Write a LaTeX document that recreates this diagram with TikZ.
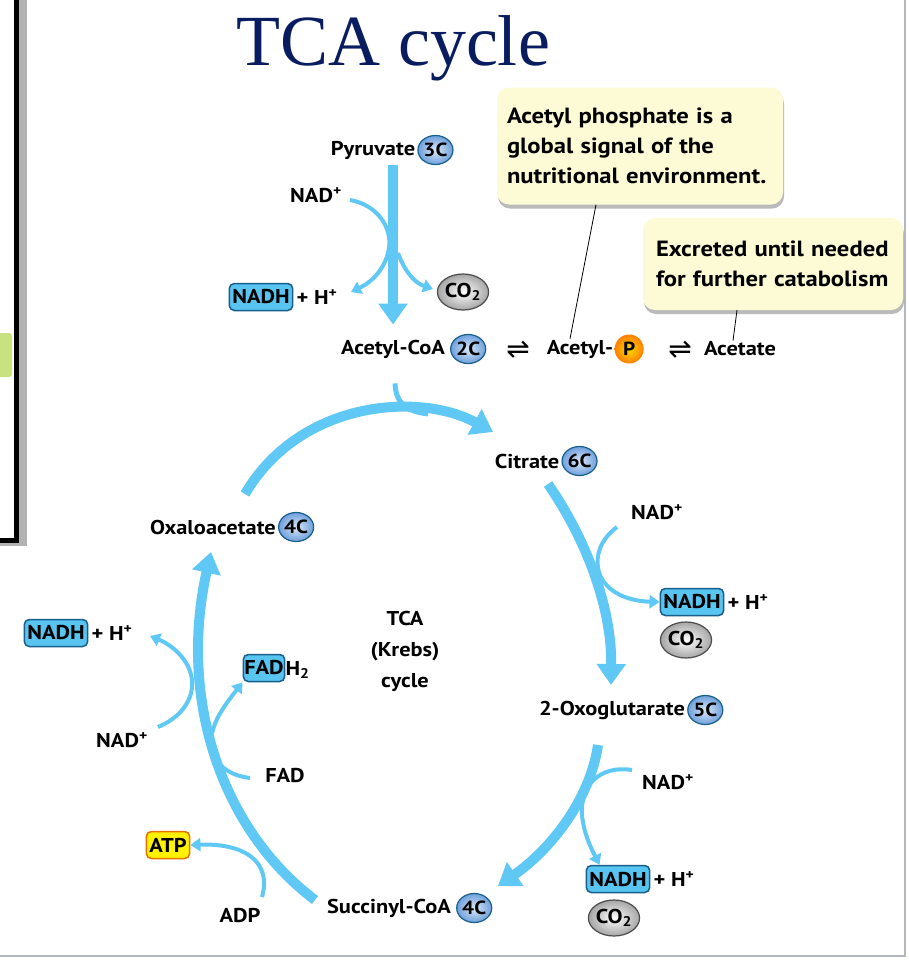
\documentclass[tikz,border=0pt]{standalone}
\usepackage{fontspec}
\setmainfont[FakeStretch=1.12]{PT Sans}
\newfontfamily\titlefont{Liberation Serif}
\newfontfamily\arrowfont{DejaVu Sans}
\usetikzlibrary{arrows.meta,positioning,shapes.geometric,shadows,calc}
\definecolor{cyc}{RGB}{96,200,245}
\definecolor{nadfill}{RGB}{88,196,240}
\definecolor{naddraw}{RGB}{25,95,140}
\definecolor{callfill}{RGB}{253,251,214}
\definecolor{titleblue}{RGB}{8,28,95}
\definecolor{ballblue}{RGB}{110,160,220}
\definecolor{rimgray}{RGB}{180,184,190}
\definecolor{leafgreen}{RGB}{200,226,128}
\tikzset{
  >=Stealth,
  lbl/.style={font=\bfseries\fontsize{20}{24}\selectfont, inner sep=1pt},
  eqsign/.style={inner sep=0pt, font=\arrowfont\fontsize{28}{28}\selectfont},
  carb/.style={ellipse, draw=naddraw, line width=1.2pt, inner color=ballblue!25, outer color=ballblue,
    inner sep=0pt, minimum width=35pt, minimum height=29pt, font=\bfseries\fontsize{19}{22}\selectfont},
  nadh/.style={rectangle, rounded corners=5pt, draw=naddraw, line width=1.5pt, fill=nadfill,
    inner sep=3pt, minimum height=27pt, font=\bfseries\fontsize{20}{24}\selectfont},
  co2/.style={ellipse, draw=black!70, line width=1.2pt, inner color=white, outer color=black!35,
    inner sep=0pt, minimum width=50pt, minimum height=36pt, font=\bfseries\fontsize{20}{24}\selectfont},
  atp/.style={nadh, fill=yellow, draw=orange!90!black},
  pball/.style={circle, inner color=yellow!70!orange, outer color=orange, inner sep=0pt,
    minimum size=29pt, font=\bfseries\fontsize{19}{22}\selectfont},
  callout/.style={rectangle, rounded corners=12pt, fill=callfill, align=left, inner sep=0pt,
    font=\bfseries\fontsize{22}{30}\selectfont,
    drop shadow={shadow xshift=1pt, shadow yshift=-4pt, fill=black!45, opacity=0.6}},
  main/.style={draw=cyc, line width=10pt, -{Triangle[width=28pt,length=21pt]}},
  side/.style={draw=cyc, line width=4pt, -{Triangle[width=13pt,length=10pt]}},
  feed/.style={draw=cyc, line width=5pt},
}
\begin{document}
\begin{tikzpicture}[x=1pt,y=-1pt]
\useasboundingbox (0,0) rectangle (909,962);
\fill[white] (0,0) rectangle (909,962);

% edge of the slide
\fill[black!30] (17,0) rectangle (27,546);
\fill[black!30] (0,540) rectangle (27,546);
\fill[leafgreen, rounded corners=3pt] (-10,333) rectangle (12,377);
\draw[line width=5pt] (-10,-10) rectangle (16,540);
\draw[rimgray, line width=1.5pt] (905,0) -- (905,956) -- (0,956);

% title
\node (title) at (393,48) {\titlefont\color{titleblue}\fontsize{72}{80}\selectfont TCA cycle};

% callouts
\node[callout, minimum width=286pt, minimum height=117pt, text width=266pt] (call1) at (640,146)
  {Acetyl phosphate is a\\global signal of the\\nutritional environment.};
\node[callout, minimum width=260pt, minimum height=92pt, text width=234pt] (call2) at (773,264)
  {Excreted until needed\\for further catabolism};

% acetyl-CoA row
\node[lbl] (pyr) at (373,150) {Pyruvate};
\node[carb, right=1pt of pyr] (c3) {3C};
\node[lbl] (acoa) at (393,349) {Acetyl-CoA};
\node[carb, right=4pt of acoa] (c2) {2C};
\node[eqsign] (eq1) at (518,350) {⇌};
\node[lbl] (acp) at (580,349) {Acetyl-};
\node[pball, right=0pt of acp] (pp) {P};
\node[eqsign] (eq2) at (680,350) {⇌};
\node[lbl] (acet) at (740,349) {Acetate};

\draw[thick] (call1.south -| 596,0) -- ($(acp.north)+(-10,0)$);
\draw[thick] (call2.south -| 737,0) -- ($(acet.north)+(-7,0)$);

% pyruvate dehydrogenase
\node[lbl] (nad1) at (316,195) {NAD\textsuperscript{+}};
\node[nadh] (nadh1) at (261,297) {NADH};
\node[lbl, right=2pt of nadh1] (h1) {+ H\textsuperscript{+}};
\node[co2] (co2a) at (463,292) {CO\textsubscript{2}};
\coordinate (p0) at (393,165);
\coordinate (n1) at (350,200);
\coordinate (k1) at (398,253);
\draw[main] (p0) -- ($(acoa.north)+(0,-14)$);
\draw[side] (n1) .. controls (378,205) and (392,228) .. (389,248)
  .. controls (386,268) and (372,282) .. (351,292);
\draw[side] (k1) .. controls (405,272) and (415,283) .. (433,289);

% cycle
\node[lbl] (cit) at (527,461) {Citrate};
\node[carb, right=1pt of cit] (c6) {6C};
\node[lbl] (oxo) at (612,710) {2-Oxoglutarate};
\node[carb, right=1pt of oxo] (c5) {5C};
\node[lbl] (suc) at (389,908) {Succinyl-CoA};
\node[carb, right=4pt of suc] (c4b) {4C};
\node[lbl] (oxa) at (213,527) {Oxaloacetate};
\node[carb, right=1pt of oxa] (c4a) {4C};
\node[lbl, align=center, font=\bfseries\fontsize{20}{31}\selectfont] (krebs) at (405,651) {TCA\\(Krebs)\\cycle};

\coordinate (a0) at (245,494);
\coordinate (a1) at (493,432);
\coordinate (b0) at (548,484);
\coordinate (b1) at (611,685);
\coordinate (d0) at (598,745);
\coordinate (d1) at (498,886);
\coordinate (e0) at (315,900);
\coordinate (e1) at (211,552);
\draw[main] (a0) .. controls (300,400) and (420,392) .. (a1);
\draw[feed] ($(acoa.south)+(2,24)$) .. controls (396,402) and (404,411) .. (428,414);
\draw[main] (b0) .. controls (580,530) and (612,600) .. (b1);
\draw[main] (d0) .. controls (590,800) and (550,850) .. (d1);
\draw[main] (e0) .. controls (222,830) and (178,700) .. (e1);

% isocitrate dehydrogenase
\node[lbl] (nad2) at (657,512) {NAD\textsuperscript{+}};
\node[nadh] (nadh2) at (692,602) {NADH};
\node[lbl, right=2pt of nadh2] (h2) {+ H\textsuperscript{+}};
\node[co2] (co2b) at (686,640) {CO\textsubscript{2}};
\draw[side] (617,527) .. controls (600,540) and (596,555) .. (598,568)
  .. controls (602,590) and (625,601) .. (nadh2.west);

% 2-oxoglutarate dehydrogenase
\node[lbl] (nad3) at (668,782) {NAD\textsuperscript{+}};
\node[nadh] (nadh3) at (618,879) {NADH};
\node[lbl, right=2pt of nadh3] (h3) {+ H\textsuperscript{+}};
\node[co2] (co2c) at (614,918) {CO\textsubscript{2}};
\draw[side] (632,770) .. controls (600,765) and (580,785) .. (582,815)
  .. controls (584,835) and (592,850) .. ($(nadh3.north west)+(14,0)$);

% left side of the cycle
\node[nadh] (nadh4) at (56,633) {NADH};
\node[lbl, right=2pt of nadh4] (h4) {+ H\textsuperscript{+}};
\node[lbl] (nad4) at (122,740) {NAD\textsuperscript{+}};
\node[nadh, inner xsep=1pt] (fadh) at (264,668) {FAD};
\node[lbl, right=-1pt of fadh, yshift=-2pt] (fadh2) {H\textsubscript{2}};
\node[lbl] (fad) at (285,775) {FAD};
\node[atp] (atp) at (168,845) {ATP};
\node[lbl] (adp) at (240,915) {ADP};
\draw[side] (158,727) .. controls (180,718) and (194,700) .. (192,680)
  .. controls (190,660) and (172,645) .. (150,636);
\draw[side] (250,778) .. controls (225,775) and (210,760) .. (211,740)
  .. controls (213,720) and (225,705) .. (fadh.south west);
\draw[side] (262,897) .. controls (272,862) and (245,843) .. (atp.east);
\end{tikzpicture}
\end{document}
